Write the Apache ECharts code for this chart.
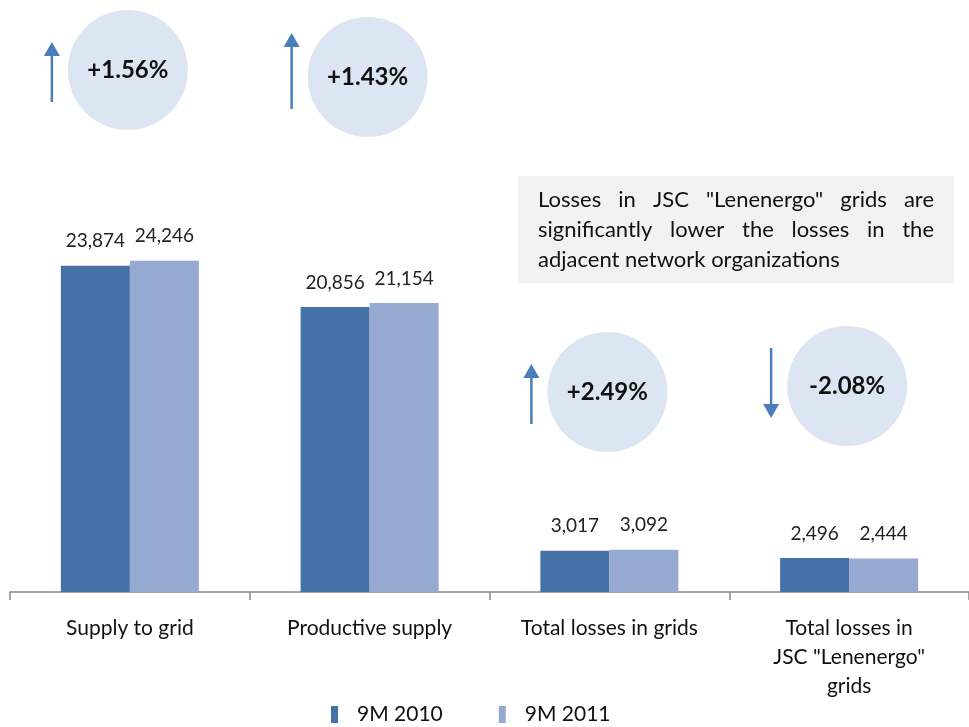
<!DOCTYPE html>
<html><head><meta charset="utf-8">
<script src="https://cdn.jsdelivr.net/npm/echarts@6/dist/echarts.min.js"></script>
<style>html,body{margin:0;padding:0;background:#fff}#c{width:969px;height:727px}</style>
</head><body><div id="c"></div>
<script>
const categories = ['Supply to grid', 'Productive supply', 'Total losses in grids', 'Total losses in\nJSC "Lenenergo"\ngrids'];
const seriesNames = ['9M 2010', '9M 2011'];
const values2010 = [23874, 20856, 3017, 2496];
const values2011 = [24246, 21154, 3092, 2444];
const bubbleY = [70, 77, 392, 386];
const noteLines = ['Losses in JSC "Lenenergo" grids are', 'significantly lower the losses in the', 'adjacent network organizations'];

const FONT = 'Lato, "Open Sans", sans-serif';
const chart = echarts.init(document.getElementById('c'), null, {renderer: 'canvas'});
const fmt = v => v.toLocaleString('en-US');

const option = {
  animation: false,
  textStyle: {fontFamily: FONT},
  grid: {left: 10, right: -5, top: 100, bottom: 135},
  legend: {
    data: seriesNames, left: 326, top: 699, itemWidth: 7, itemHeight: 17, itemGap: 56,
    icon: 'rect',
    textStyle: {fontSize: 21, color: '#111', fontFamily: FONT, padding: [8, 0, 0, 14]}
  },
  xAxis: {
    type: 'category', data: categories,
    axisLine: {lineStyle: {color: '#888', width: 1.5}},
    axisTick: {show: true, length: 8, lineStyle: {color: '#888', width: 1.5}, alignWithLabel: false},
    axisLabel: {fontSize: 21, color: '#111', margin: 22, lineHeight: 29, fontFamily: FONT}
  },
  yAxis: {type: 'value', min: 0, max: 36000, show: false, splitLine: {show: false}},
  series: [
    {name: seriesNames[0], type: 'bar', data: values2010, barWidth: 69, barGap: '0%',
     itemStyle: {color: '#4472a8'},
     label: {show: true, position: 'top', distance: 15, fontSize: 19, color: '#222', formatter: p => fmt(p.value), fontFamily: FONT}},
    {name: seriesNames[1], type: 'bar', data: values2011, barWidth: 69,
     itemStyle: {color: '#95a9d1'},
     label: {show: true, position: 'top', distance: 15, fontSize: 19, color: '#222', formatter: p => fmt(p.value), fontFamily: FONT}}
  ]
};
chart.setOption(option);

// annotations
const g = [];
categories.forEach((c, i) => {
  const cx = chart.convertToPixel({xAxisIndex: 0}, i) - 2;
  const cy = bubbleY[i];
  const pct = (values2011[i] - values2010[i]) / values2010[i] * 100;
  const txt = (pct >= 0 ? '+' : '') + pct.toFixed(2) + '%';
  g.push({type: 'circle', shape: {cx: cx, cy: cy, r: 60}, style: {fill: '#dce6f2'}, z: 10});
  g.push({type: 'text', x: cx, y: cy, style: {text: txt, fontSize: 24, fontWeight: 'bold', fill: '#111', align: 'center', verticalAlign: 'middle', fontFamily: FONT}, z: 11});
  const ax = cx - 76;
  const up = pct >= 0;
  const y0 = up ? cy + 32 : cy - 38;
  const len = up ? (i === 1 ? 76 : 60) : 70;
  const tipY = up ? y0 - len : y0 + len;
  const shaftEnd = up ? tipY + 14 : tipY - 14;
  g.push({type: 'line', shape: {x1: ax, y1: y0, x2: ax, y2: shaftEnd}, style: {stroke: '#4a7ebb', lineWidth: 2.5}, z: 10});
  g.push({type: 'polygon', shape: {points: [[ax, tipY], [ax - 8, shaftEnd], [ax + 8, shaftEnd]]}, style: {fill: '#4a7ebb'}, z: 10});
});

// note box with justified text
g.push({type: 'rect', shape: {x: 518, y: 176, width: 436, height: 107}, style: {fill: '#f2f2f2'}, z: 5});
const ctx = document.createElement('canvas').getContext('2d');
const NOTE_SIZE = 22;
ctx.font = NOTE_SIZE + 'px ' + FONT;
const left = 538, right = 934;
noteLines.forEach((line, li) => {
  const y = 200 + li * 30;
  const words = line.split(' ');
  if (li === noteLines.length - 1) {
    g.push({type: 'text', x: left, y: y, style: {text: line, fontSize: NOTE_SIZE, fill: '#111', verticalAlign: 'middle', fontFamily: FONT}, z: 6});
    return;
  }
  const widths = words.map(w => ctx.measureText(w).width);
  const total = widths.reduce((a, b) => a + b, 0);
  const gap = (right - left - total) / (words.length - 1);
  let x = left;
  words.forEach((w, wi) => {
    g.push({type: 'text', x: x, y: y, style: {text: w, fontSize: NOTE_SIZE, fill: '#111', verticalAlign: 'middle', fontFamily: FONT}, z: 6});
    x += widths[wi] + gap;
  });
});
chart.setOption({graphic: {elements: g}});
</script></body></html>
